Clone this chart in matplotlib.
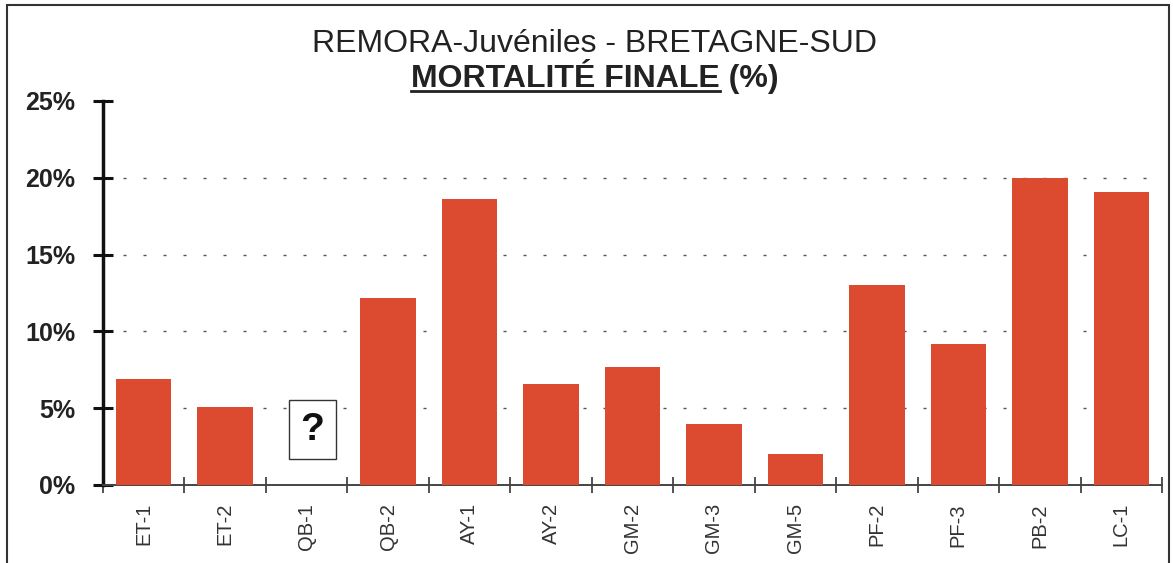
import numpy as np
import matplotlib
matplotlib.use('Agg')
from matplotlib import pyplot as plt
from matplotlib.patches import Rectangle
from matplotlib.lines import Line2D

plt.rcParams['font.family'] = ['Liberation Sans', 'DejaVu Sans']

# data (QB-1 has no value, shown as "?")
stations = ['ET-1', 'ET-2', 'QB-1', 'QB-2', 'AY-1', 'AY-2', 'GM-2',
            'GM-3', 'GM-5', 'PF-2', 'PF-3', 'PB-2', 'LC-1']
mortality = [6.9, 5.1, np.nan, 12.2, 18.6, 6.6, 7.7, 4.0, 2.0, 13.0, 9.2, 20.0, 19.1]
yticks = [0, 5, 10, 15, 20, 25]
missing_station = 'QB-1'

W, H = 1173, 563
fig = plt.figure(figsize=(W / 100, H / 100), dpi=100)
ax = fig.add_axes([103 / W, 1 - 485 / H, (1162 - 103) / W, (485 - 101) / H])

x = np.arange(len(stations))
ax.bar(x, np.nan_to_num(mortality), width=0.68, color='#DC4A30', zorder=3)

ax.set_xlim(-0.5, len(stations) - 0.5)
ax.set_ylim(0, 25)

# grid
for v in yticks[1:-1]:
    ax.axhline(v, color='#555555', lw=1.0, linestyle=(0, (2.2, 12.2)), zorder=1)

# y axis
ax.set_yticks(yticks)
ax.set_yticklabels(['%d%%' % v for v in yticks], fontsize=18, fontweight='bold', color='#222222')
ax.tick_params(axis='y', direction='inout', length=14, width=2.2, pad=13, color='#111111')

# x axis: labels at centres, marks at boundaries
ax.set_xticks(x)
ax.set_xticklabels(stations, rotation=90, fontsize=14.5, color='#333333')
ax.tick_params(axis='x', which='major', length=0, pad=13)
ax.set_xticks(np.arange(len(stations) + 1) - 0.5, minor=True)
ax.tick_params(axis='x', which='minor', direction='inout', length=12, width=1.3, color='#444444')

for s in ['top', 'right']:
    ax.spines[s].set_visible(False)
ax.spines['left'].set_linewidth(2.5)
ax.spines['left'].set_color('#111111')
ax.spines['bottom'].set_linewidth(1.4)
ax.spines['bottom'].set_color('#444444')

# "?" box for the missing station
qi = stations.index(missing_station)
ax.text(qi + 0.07, 3.6, '?', fontsize=28, fontweight='bold', ha='center', va='center',
        color='#111111', zorder=4,
        bbox=dict(boxstyle='square,pad=0.3', fc='white', ec='#333333', lw=1.0))

# titles
cx = 595 / W
fig.text(cx, 1 - 52 / H, 'REMORA-Juvéniles - BRETAGNE-SUD', ha='center', va='baseline',
         fontsize=23, color='#222222')
t2 = fig.text(cx, 1 - 87 / H, 'MORTALITÉ FINALE (%)', ha='center', va='baseline',
              fontsize=23, fontweight='bold', color='#222222')

fig.canvas.draw()
r = fig.canvas.get_renderer()
bb = t2.get_window_extent(r)
tmp = fig.text(0, 0, 'MORTALITÉ FINALE', fontsize=23, fontweight='bold')
wpart = tmp.get_window_extent(r).width
tmp.remove()
uy = (H - 91) / H
fig.add_artist(Line2D([bb.x0 / W, (bb.x0 + wpart) / W], [uy, uy], color='#222222', lw=2.0))

# outer frame of the chart area
fig.add_artist(Rectangle((7 / W, -0.05), (1169 - 7) / W, 1.05 - 5 / H, fill=False,
                         ec='#333333', lw=1.5, transform=fig.transFigure))

fig.savefig('out.png', dpi=100)
